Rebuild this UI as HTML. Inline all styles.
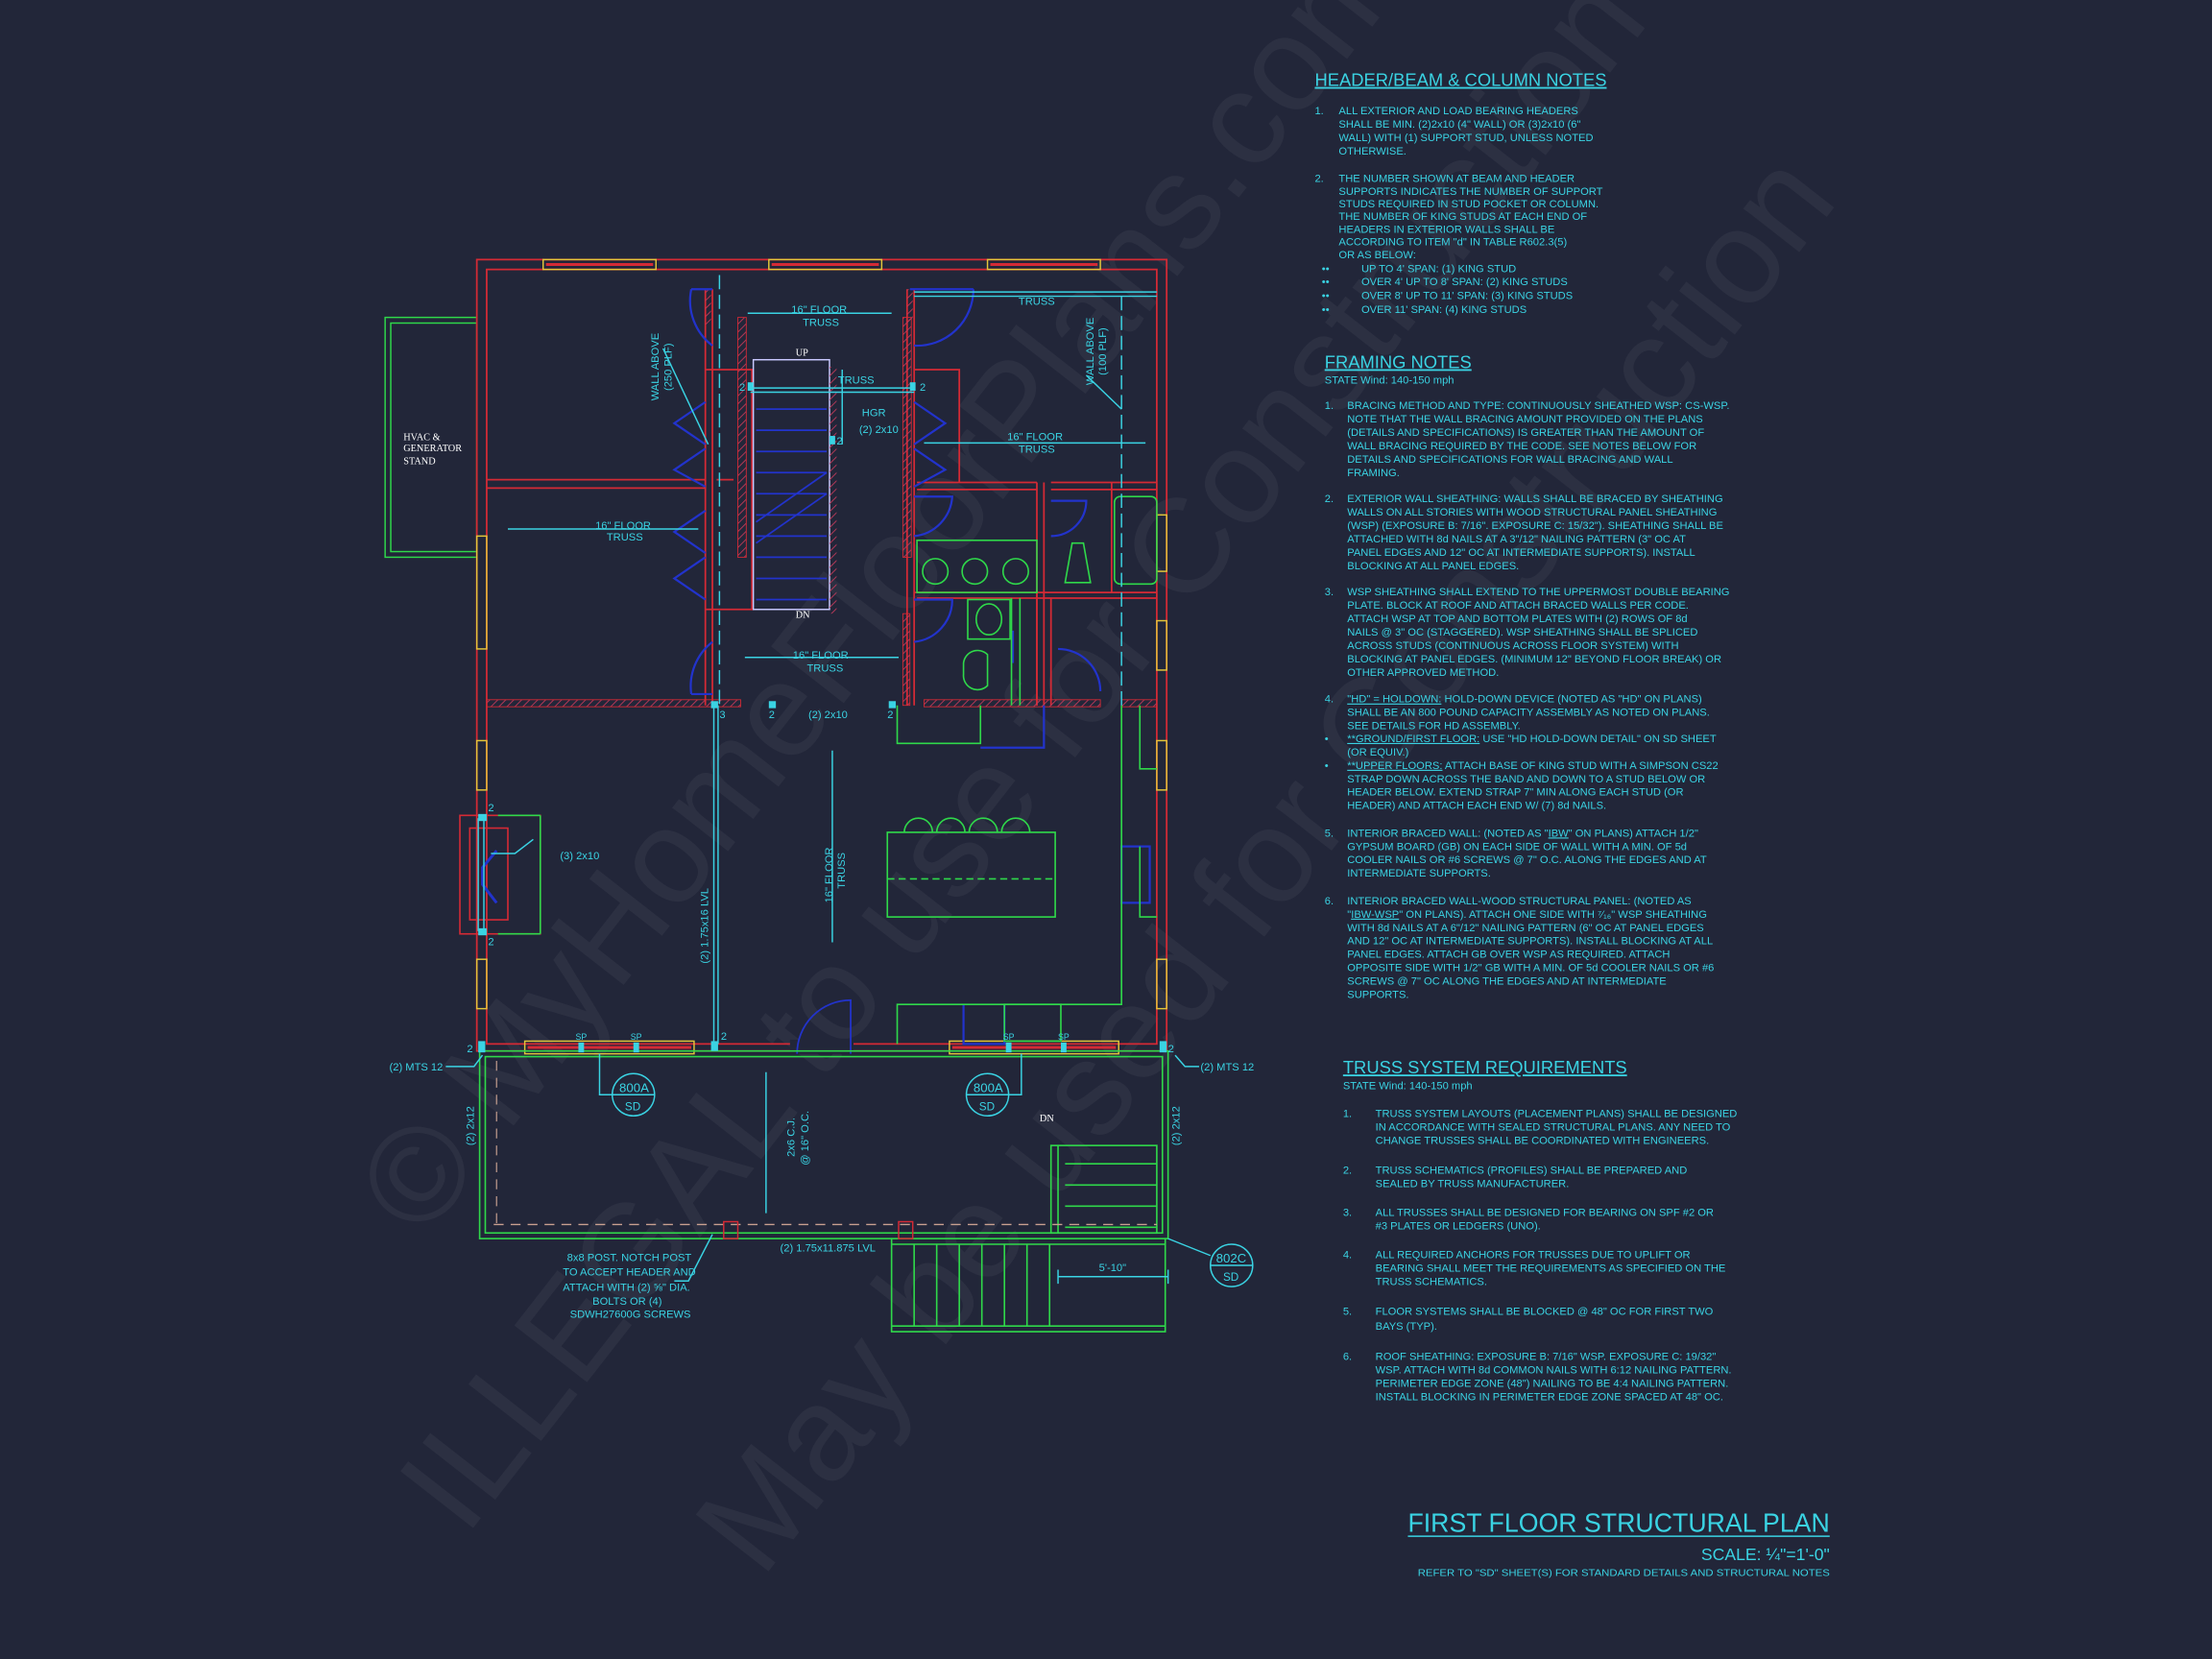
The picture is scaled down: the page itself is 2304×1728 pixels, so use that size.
<!DOCTYPE html>
<html><head><meta charset="utf-8"><style>
html,body{margin:0;padding:0;background:#222639;}
svg{display:block}
text{font-family:"Liberation Sans",sans-serif;}
.n{fill:#3ad3e3;font-size:7.6px;}
.h{fill:#3ad3e3;font-size:12.5px;text-decoration:underline;}
.l{fill:#3ad3e3;font-size:7.6px;}
.w{fill:#ffffff;font-family:"Liberation Serif",serif;font-size:7px;}
</style></head><body>
<svg width="2304" height="1728" viewBox="0 0 1568 1176" xmlns="http://www.w3.org/2000/svg">
<defs>
<pattern id="hat" width="4" height="4" patternUnits="userSpaceOnUse" patternTransform="rotate(45)"><line x1="0" y1="0" x2="0" y2="4" stroke="#c23a5a" stroke-width="1.2"/></pattern>
</defs>
<rect width="1568" height="1176" fill="#222639"/>

<!-- watermark -->
<g fill="#ffffff" opacity="0.045" font-family="Liberation Serif,serif">
<text x="300" y="880" font-size="95" transform="rotate(-52 300 880)">© MyHomeFloorPlans.com</text>
<text x="330" y="1090" font-size="95" transform="rotate(-52 330 1090)">ILLEGAL to use for Construction</text>
<text x="540" y="1120" font-size="95" transform="rotate(-52 540 1120)">May be used for Construction</text>
</g>

<!-- HVAC -->
<rect x="273" y="225" width="65" height="170" fill="none" stroke="#2fd84a" stroke-width="1"/>
<rect x="277" y="229" width="61" height="162" fill="none" stroke="#2fd84a" stroke-width="1"/>
<text class="w" x="286" y="312">HVAC &amp;</text>
<text class="w" x="286" y="320">GENERATOR</text>
<text class="w" x="286" y="329">STAND</text>

<!-- exterior walls -->
<g fill="none" stroke="#d42a35" stroke-width="1.2">
<rect x="338" y="184" width="489" height="561"/>
<rect x="345" y="191" width="475" height="549"/>
<path d="M345 340 H500 M345 346 H500 M508 340 H520 M650 342 H735 M650 347 H735 M745 342 H820 M745 347 H820"/>
<path d="M500 205 V500 M505 205 V500 M643 205 V500 M648 205 V500"/>
<path d="M500 262 H533 V432 H500 M648 262 H680 V342 M648 420 H680"/>
<path d="M735 342 V500 M740 342 V500 M650 420 H820 M650 424 H820 M788 342 V420"/>
<path d="M735 420 V500 M745 424 V500"/>
</g>
<rect x="345" y="496" width="180" height="5" fill="url(#hat)" stroke="#d42a35" stroke-width="0.6"/>
<rect x="655" y="496" width="125" height="5" fill="url(#hat)" stroke="#d42a35" stroke-width="0.6"/>
<rect x="795" y="496" width="25" height="5" fill="url(#hat)" stroke="#d42a35" stroke-width="0.6"/>
<rect x="523" y="225" width="6" height="170" fill="url(#hat)" stroke="#d42a35" stroke-width="0.6"/>
<rect x="640" y="225" width="6" height="170" fill="url(#hat)" stroke="#d42a35" stroke-width="0.6"/>
<rect x="500" y="205" width="4" height="25" fill="url(#hat)"/>
<rect x="643" y="205" width="4" height="25" fill="url(#hat)"/>
<rect x="640" y="435" width="5" height="65" fill="url(#hat)" stroke="#d42a35" stroke-width="0.6"/>

<g stroke-width="1" fill="none">
<rect x="385" y="184" width="80" height="7" stroke="#e3c63a"/><line x1="387" y1="187.5" x2="463" y2="187.5" stroke="#d42a35" stroke-width="2"/>
<rect x="545" y="184" width="80" height="7" stroke="#e3c63a"/><line x1="547" y1="187.5" x2="623" y2="187.5" stroke="#d42a35" stroke-width="2"/>
<rect x="700" y="184" width="80" height="7" stroke="#e3c63a"/><line x1="702" y1="187.5" x2="778" y2="187.5" stroke="#d42a35" stroke-width="2"/>
<rect x="338" y="380" width="7" height="80" stroke="#e3c63a"/>
<rect x="338" y="525" width="7" height="35" stroke="#e3c63a"/>
<rect x="338" y="680" width="7" height="35" stroke="#e3c63a"/>
<rect x="820" y="365" width="7" height="40" stroke="#e3c63a"/>
<rect x="820" y="440" width="7" height="35" stroke="#e3c63a"/>
<rect x="820" y="525" width="7" height="35" stroke="#e3c63a"/>
<rect x="820" y="680" width="7" height="35" stroke="#e3c63a"/>
<rect x="372" y="738" width="120" height="9" stroke="#e3c63a"/><line x1="374" y1="742.5" x2="490" y2="742.5" stroke="#d42a35" stroke-width="2"/>
<rect x="673" y="738" width="120" height="9" stroke="#e3c63a"/><line x1="675" y1="742.5" x2="791" y2="742.5" stroke="#d42a35" stroke-width="2"/>
</g>
<rect x="560" y="737" width="45" height="10" fill="#222639"/>
<path d="M565 747 A38 38 0 0 1 603 709 V747" fill="none" stroke="#2233cc" stroke-width="1.2"/>

<rect x="534" y="255" width="54" height="177" fill="none" stroke="#c9c9ff" stroke-width="1"/>
<g stroke="#2233cc" stroke-width="1.2">
<line x1="536" y1="290" x2="586" y2="290"/><line x1="536" y1="305" x2="586" y2="305"/><line x1="536" y1="320" x2="586" y2="320"/><line x1="536" y1="335" x2="586" y2="335"/><line x1="536" y1="350" x2="586" y2="350"/><line x1="536" y1="365" x2="586" y2="365"/><line x1="536" y1="380" x2="586" y2="380"/><line x1="536" y1="395" x2="586" y2="395"/><line x1="536" y1="410" x2="586" y2="410"/><line x1="536" y1="425" x2="586" y2="425"/>
<line x1="536" y1="370" x2="586" y2="335"/><line x1="536" y1="385" x2="586" y2="350"/>
</g>
<rect x="588" y="260" width="5" height="175" fill="url(#hat)"/>
<text class="w" x="564" y="252">UP</text><text class="w" x="564" y="438">DN</text>

<g fill="none" stroke="#2233cc" stroke-width="1.5">
<path d="M490 205 H505 M490 205 A40 40 0 0 0 505 245"/>
<path d="M645 205 H690 M690 205 A40 40 0 0 1 648 245"/>
<path d="M500 285 L478 300 L500 315 M500 318 L478 333 L500 345"/>
<path d="M500 362 L478 377 L500 392 M500 395 L478 410 L500 425"/>
<path d="M648 285 L670 300 L648 315 M648 318 L670 333 L648 345"/>
<path d="M490 492 H505 M490 492 A40 40 0 0 1 505 455"/>
<path d="M648 352 H675 A30 30 0 0 1 648 380"/>
<path d="M648 425 H675 A30 30 0 0 1 648 455"/>
<path d="M718 447 V470"/>
<path d="M745 355 H770 A25 25 0 0 1 745 380"/>
<path d="M750 460 A30 30 0 0 1 780 490"/>
<path d="M695 530 H740 V500"/>
<path d="M795 600 H815 V640 H795 Z"/>
<path d="M683 712 V740 H712 V712"/>
</g>

<g fill="none" stroke="#2fd84a" stroke-width="1.1">
<rect x="650" y="383" width="85" height="37"/>
<circle cx="663" cy="405" r="9"/><circle cx="691" cy="405" r="9"/><circle cx="720" cy="405" r="9"/>
<path d="M755 413 L760 385 H768 L773 413 Z"/>
<rect x="790" y="352" width="30" height="62" rx="4"/>
<rect x="686" y="425" width="30" height="28"/><ellipse cx="701" cy="439" rx="9" ry="11"/>
<path d="M683 470 A10 10 0 0 1 700 464 V486 A10 10 0 0 1 683 478 Z"/>
<line x1="717" y1="424" x2="717" y2="500"/><line x1="723" y1="424" x2="723" y2="500"/>
<rect x="629" y="590" width="119" height="60"/>
<line x1="629" y1="623" x2="748" y2="623" stroke-dasharray="5 3"/>
<path d="M641 590 A10 10 0 0 1 661 590 M664 590 A10 10 0 0 1 684 590 M687 590 A10 10 0 0 1 707 590 M710 590 A10 10 0 0 1 730 590"/>
<path d="M795 500 V712 H636 V740"/>
<path d="M808 500 V545 H820 M808 600 V650 H820 M636 500 V527 H695 V500"/>
<rect x="712" y="712" width="40" height="26"/>
<rect x="340" y="745" width="488" height="133"/>
<rect x="344" y="749" width="480" height="125"/>
<path d="M632 878 V944 H826 V878"/><path d="M632 940 H826 M632 882 H826"/>
<path d="M648 882 V940 M664 882 V940 M680 882 V940 M696 882 V940 M712 882 V940 M728 882 V940 M744 882 V940"/>
<rect x="745" y="812" width="75" height="62"/>
<path d="M750 812 V874 M755 825 H820 M755 840 H820 M755 855 H820 M755 870 H820"/>
</g>
<line x1="350" y1="868" x2="820" y2="868" stroke="#c8a090" stroke-dasharray="7 5" stroke-width="1"/>
<line x1="352" y1="752" x2="352" y2="868" stroke="#c8a090" stroke-dasharray="7 5" stroke-width="0.8"/>
<rect x="513" y="866" width="10" height="12" fill="none" stroke="#d42a35"/>
<rect x="637" y="866" width="10" height="12" fill="none" stroke="#d42a35"/>

<g fill="none" stroke-width="1.1">
<rect x="326" y="578" width="57" height="84" stroke="#d42a35"/>
<rect x="333" y="587" width="27" height="65" stroke="#d42a35"/>
<path d="M383 578 V662 M353 578 H383 M353 662 H383" stroke="#2fd84a"/>
<path d="M352 603 L342 615 V627 L352 640" stroke="#2233cc" stroke-width="2"/>
</g>
<g stroke="#3ad3e3" stroke-width="1" fill="none">
<line x1="339" y1="580" x2="339" y2="660"/><line x1="343" y1="580" x2="343" y2="660"/>
<line x1="510" y1="195" x2="510" y2="500" stroke-dasharray="10 4"/>
<line x1="795" y1="210" x2="795" y2="500" stroke-dasharray="10 4"/>
<path d="M648 207 H820 M648 210 H820"/>
<line x1="506" y1="500" x2="506" y2="740"/><line x1="509" y1="500" x2="509" y2="740"/>
<path d="M532 275 H648 M532 278 H648"/>
<line x1="597" y1="262" x2="597" y2="315"/>
<path d="M530 222 H632 M360 375 H495 M655 314 H812 M528 466 H637 M590 532 V668 M543 760 V860"/>
<path d="M750 905 H828 M750 900 V910 M828 900 V910"/>
<path d="M470 247 L502 315 M770 266 L795 290"/>
<path d="M316 756 H336 L342 748 M833 748 L840 756 H850"/>
<path d="M348 605 H365 L378 595 M505 875 L488 908 H478"/>
<path d="M434 776 H425 V747 M715 776 H724 V747 M828 878 L858 890"/>
</g>
<g fill="#3ad3e3">
<rect x="339" y="738" width="5" height="8"/><rect x="822" y="738" width="5" height="8"/><rect x="504" y="738" width="5" height="7"/>
<rect x="339" y="577" width="6" height="5"/><rect x="339" y="658" width="6" height="5"/>
<rect x="504" y="497" width="5" height="5"/><rect x="545" y="497" width="5" height="5"/><rect x="630" y="497" width="5" height="5"/>
<rect x="410" y="739" width="4" height="7"/><rect x="449" y="739" width="4" height="7"/><rect x="713" y="739" width="4" height="7"/><rect x="752" y="739" width="4" height="7"/>
<rect x="530" y="271" width="4" height="6"/><rect x="645" y="271" width="4" height="6"/><rect x="588" y="309" width="4" height="6"/>
</g>
<g fill="none" stroke="#3ad3e3"><circle cx="449" cy="776" r="15"/><circle cx="700" cy="776" r="15"/><circle cx="873" cy="897" r="15"/>
<path d="M434 776 H464 M685 776 H715 M858 897 H888"/></g>
<g class="l" font-size="8">
<text x="439" y="774" font-size="9">800A</text><text x="443" y="787" font-size="8">SD</text>
<text x="690" y="774" font-size="9">800A</text><text x="694" y="787" font-size="8">SD</text>
<text x="862" y="895" font-size="9">802C</text><text x="867" y="908" font-size="8">SD</text>
</g>

<g class="l">
<text x="561" y="222">16" FLOOR</text><text x="569" y="231">TRUSS</text>
<text x="722" y="216">TRUSS</text>
<text x="422" y="375">16" FLOOR</text><text x="430" y="383">TRUSS</text>
<text x="714" y="312">16" FLOOR</text><text x="722" y="321">TRUSS</text>
<text x="562" y="467">16" FLOOR</text><text x="572" y="476">TRUSS</text>
<text x="594" y="272">TRUSS</text><text x="611" y="295">HGR</text><text x="609" y="307">(2) 2x10</text>
<text x="524" y="277">2</text><text x="652" y="277">2</text><text x="593" y="315">2</text>
<text x="510" y="509">3</text><text x="545" y="509">2</text><text x="573" y="509">(2) 2x10</text><text x="629" y="509">2</text>
<text x="346" y="575">2</text><text x="397" y="609">(3) 2x10</text><text x="346" y="670">2</text>
<text x="511" y="737">2</text><text x="331" y="746">2</text><text x="828" y="746">2</text>
<text x="408" y="737" font-size="6">SP</text><text x="447" y="737" font-size="6">SP</text><text x="711" y="737" font-size="6">SP</text><text x="750" y="737" font-size="6">SP</text>
<text x="276" y="759">(2) MTS 12</text><text x="851" y="759">(2) MTS 12</text>
<text x="553" y="887">(2) 1.75x11.875 LVL</text>
<text x="779" y="901">5'-10"</text>
<text x="402" y="894">8x8 POST. NOTCH POST</text><text x="399" y="904">TO ACCEPT HEADER AND</text><text x="399" y="915">ATTACH WITH (2) ⅝" DIA.</text><text x="420" y="925">BOLTS OR (4)</text><text x="404" y="934">SDWH27600G SCREWS</text>
<text transform="translate(467 284) rotate(-90)">WALL ABOVE</text><text transform="translate(476 277) rotate(-90)">(250 PLF)</text>
<text transform="translate(775 273) rotate(-90)">WALL ABOVE</text><text transform="translate(784 266) rotate(-90)">(100 PLF)</text>
<text transform="translate(502 683) rotate(-90)">(2) 1.75x16 LVL</text>
<text transform="translate(590 640) rotate(-90)">16" FLOOR</text><text transform="translate(599 630) rotate(-90)">TRUSS</text>
<text transform="translate(563 820) rotate(-90)">2x6 C.J.</text><text transform="translate(573 826) rotate(-90)">@ 16" O.C.</text>
<text transform="translate(336 812) rotate(-90)">(2) 2x12</text><text transform="translate(836 812) rotate(-90)">(2) 2x12</text>
</g>
<text class="w" x="737" y="795">DN</text>

<text class="h" x="932" y="61">HEADER/BEAM &amp; COLUMN NOTES</text>
<g class="n">
<text x="932" y="81">1.</text>
<text x="949" y="81">ALL EXTERIOR AND LOAD BEARING HEADERS</text>
<text x="949" y="90.5">SHALL BE MIN. (2)2x10 (4" WALL) OR (3)2x10 (6"</text>
<text x="949" y="100">WALL) WITH (1) SUPPORT STUD, UNLESS NOTED</text>
<text x="949" y="109.5">OTHERWISE.</text>
<text x="932" y="129">2.</text>
<text x="949" y="129">THE NUMBER SHOWN AT BEAM AND HEADER</text>
<text x="949" y="138">SUPPORTS INDICATES THE NUMBER OF SUPPORT</text>
<text x="949" y="147">STUDS REQUIRED IN STUD POCKET OR COLUMN.</text>
<text x="949" y="156">THE NUMBER OF KING STUDS AT EACH END OF</text>
<text x="949" y="165">HEADERS IN EXTERIOR WALLS SHALL BE</text>
<text x="949" y="174">ACCORDING TO ITEM "d" IN TABLE R602.3(5)</text>
<text x="949" y="183">OR AS BELOW:</text>
<text x="937" y="193">••</text><text x="965" y="193">UP TO 4' SPAN: (1) KING STUD</text>
<text x="937" y="202">••</text><text x="965" y="202">OVER 4' UP TO 8' SPAN: (2) KING STUDS</text>
<text x="937" y="212">••</text><text x="965" y="212">OVER 8' UP TO 11' SPAN: (3) KING STUDS</text>
<text x="937" y="222">••</text><text x="965" y="222">OVER 11' SPAN: (4) KING STUDS</text>
</g>

<text class="h" x="939" y="261">FRAMING NOTES</text>
<text class="n" x="939" y="272" font-size="8.5">STATE Wind: 140-150 mph</text>
<g class="n">
<text x="939" y="290">1.</text>
<text x="955" y="290">BRACING METHOD AND TYPE: CONTINUOUSLY SHEATHED WSP: CS-WSP.</text>
<text x="955" y="299.5">NOTE THAT THE WALL BRACING AMOUNT PROVIDED ON THE PLANS</text>
<text x="955" y="309">(DETAILS AND SPECIFICATIONS) IS GREATER THAN THE AMOUNT OF</text>
<text x="955" y="318.5">WALL BRACING REQUIRED BY THE CODE. SEE NOTES BELOW FOR</text>
<text x="955" y="328">DETAILS AND SPECIFICATIONS FOR WALL BRACING AND WALL</text>
<text x="955" y="337.5">FRAMING.</text>
<text x="939" y="356">2.</text>
<text x="955" y="356">EXTERIOR WALL SHEATHING: WALLS SHALL BE BRACED BY SHEATHING</text>
<text x="955" y="365.5">WALLS ON ALL STORIES WITH WOOD STRUCTURAL PANEL SHEATHING</text>
<text x="955" y="375">(WSP) (EXPOSURE B: 7/16". EXPOSURE C: 15/32"). SHEATHING SHALL BE</text>
<text x="955" y="384.5">ATTACHED WITH 8d NAILS AT A 3"/12" NAILING PATTERN (3" OC AT</text>
<text x="955" y="394">PANEL EDGES AND 12" OC AT INTERMEDIATE SUPPORTS). INSTALL</text>
<text x="955" y="403.5">BLOCKING AT ALL PANEL EDGES.</text>
<text x="939" y="422">3.</text>
<text x="955" y="422">WSP SHEATHING SHALL EXTEND TO THE UPPERMOST DOUBLE BEARING</text>
<text x="955" y="431.5">PLATE. BLOCK AT ROOF AND ATTACH BRACED WALLS PER CODE.</text>
<text x="955" y="441">ATTACH WSP AT TOP AND BOTTOM PLATES WITH (2) ROWS OF 8d</text>
<text x="955" y="450.5">NAILS @ 3" OC (STAGGERED). WSP SHEATHING SHALL BE SPLICED</text>
<text x="955" y="460">ACROSS STUDS (CONTINUOUS ACROSS FLOOR SYSTEM) WITH</text>
<text x="955" y="469.5">BLOCKING AT PANEL EDGES. (MINIMUM 12" BEYOND FLOOR BREAK) OR</text>
<text x="955" y="479">OTHER APPROVED METHOD.</text>
<text x="939" y="498">4.</text>
<text x="955" y="498"><tspan text-decoration="underline">"HD" = HOLDOWN:</tspan> HOLD-DOWN DEVICE (NOTED AS "HD" ON PLANS)</text>
<text x="955" y="507.5">SHALL BE AN 800 POUND CAPACITY ASSEMBLY AS NOTED ON PLANS.</text>
<text x="955" y="517">SEE DETAILS FOR HD ASSEMBLY.</text>
<text x="939" y="526">•</text>
<text x="955" y="526"><tspan text-decoration="underline">**GROUND/FIRST FLOOR:</tspan>  USE "HD HOLD-DOWN DETAIL" ON SD SHEET</text>
<text x="955" y="535.5">(OR EQUIV.)</text>
<text x="939" y="545">•</text>
<text x="955" y="545"><tspan text-decoration="underline">**UPPER FLOORS:</tspan> ATTACH BASE OF KING STUD WITH A SIMPSON CS22</text>
<text x="955" y="554.5">STRAP DOWN ACROSS THE BAND AND DOWN TO A STUD BELOW OR</text>
<text x="955" y="564">HEADER BELOW.  EXTEND STRAP 7" MIN ALONG EACH STUD (OR</text>
<text x="955" y="573.5">HEADER) AND ATTACH EACH END W/ (7) 8d NAILS.</text>
<text x="939" y="593">5.</text>
<text x="955" y="593">INTERIOR BRACED WALL: (NOTED AS "<tspan text-decoration="underline">IBW</tspan>" ON PLANS) ATTACH 1/2"</text>
<text x="955" y="602.5">GYPSUM BOARD (GB) ON EACH SIDE OF WALL WITH A MIN. OF 5d</text>
<text x="955" y="612">COOLER NAILS OR #6 SCREWS @ 7" O.C. ALONG THE EDGES AND AT</text>
<text x="955" y="621.5">INTERMEDIATE SUPPORTS.</text>
<text x="939" y="641">6.</text>
<text x="955" y="641">INTERIOR BRACED WALL-WOOD STRUCTURAL PANEL: (NOTED AS</text>
<text x="955" y="650.5">"<tspan text-decoration="underline">IBW-WSP</tspan>" ON PLANS). ATTACH ONE SIDE WITH ⁷⁄₁₆" WSP SHEATHING</text>
<text x="955" y="660">WITH 8d NAILS AT A 6"/12" NAILING PATTERN (6" OC AT PANEL EDGES</text>
<text x="955" y="669.5">AND 12" OC AT INTERMEDIATE SUPPORTS). INSTALL BLOCKING AT ALL</text>
<text x="955" y="679">PANEL EDGES. ATTACH GB OVER WSP AS REQUIRED. ATTACH</text>
<text x="955" y="688.5">OPPOSITE SIDE WITH 1/2" GB WITH A MIN. OF 5d COOLER NAILS OR #6</text>
<text x="955" y="698">SCREWS @ 7" OC ALONG THE EDGES AND AT INTERMEDIATE</text>
<text x="955" y="707.5">SUPPORTS.</text>
</g>

<text class="h" x="952" y="761" font-size="11">TRUSS SYSTEM REQUIREMENTS</text>
<text class="n" x="952" y="772" font-size="8">STATE Wind: 140-150 mph</text>
<g class="n">
<text x="952" y="792">1.</text>
<text x="975" y="792">TRUSS SYSTEM LAYOUTS (PLACEMENT PLANS)  SHALL BE DESIGNED</text>
<text x="975" y="801.5">IN ACCORDANCE WITH SEALED STRUCTURAL PLANS. ANY NEED TO</text>
<text x="975" y="811">CHANGE TRUSSES SHALL BE COORDINATED  WITH  ENGINEERS.</text>
<text x="952" y="832">2.</text>
<text x="975" y="832">TRUSS SCHEMATICS (PROFILES) SHALL BE  PREPARED AND</text>
<text x="975" y="841.5">SEALED BY TRUSS  MANUFACTURER.</text>
<text x="952" y="862">3.</text>
<text x="975" y="862">ALL TRUSSES SHALL BE DESIGNED FOR  BEARING ON SPF #2 OR</text>
<text x="975" y="871.5">#3 PLATES OR LEDGERS  (UNO).</text>
<text x="952" y="892">4.</text>
<text x="975" y="892">ALL REQUIRED ANCHORS FOR TRUSSES DUE  TO UPLIFT OR</text>
<text x="975" y="901.5">BEARING SHALL MEET THE  REQUIREMENTS AS SPECIFIED ON THE</text>
<text x="975" y="911">TRUSS  SCHEMATICS.</text>
<text x="952" y="932">5.</text>
<text x="975" y="932">FLOOR SYSTEMS SHALL BE BLOCKED @ 48" OC FOR FIRST TWO</text>
<text x="975" y="942.5">BAYS (TYP).</text>
<text x="952" y="964">6.</text>
<text x="975" y="964">ROOF SHEATHING: EXPOSURE B: 7/16" WSP. EXPOSURE C: 19/32"</text>
<text x="975" y="973.5">WSP. ATTACH WITH 8d COMMON NAILS WITH 6:12 NAILING PATTERN.</text>
<text x="975" y="983">PERIMETER EDGE ZONE (48") NAILING TO BE 4:4 NAILING PATTERN.</text>
<text x="975" y="992.5">INSTALL BLOCKING IN PERIMETER EDGE ZONE SPACED AT 48" OC.</text>
</g>

<text x="1297" y="1086" text-anchor="end" fill="#3ad3e3" font-size="19" textLength="299" lengthAdjust="spacingAndGlyphs">FIRST FLOOR STRUCTURAL PLAN</text>
<line x1="998" y1="1089" x2="1297" y2="1089" stroke="#3ad3e3" stroke-width="1"/>
<text x="1297" y="1106" text-anchor="end" fill="#3ad3e3" font-size="12">SCALE: ¼"=1'-0"</text>
<text x="1297" y="1117" text-anchor="end" fill="#3ad3e3" font-size="7" textLength="292" lengthAdjust="spacingAndGlyphs">REFER TO "SD" SHEET(S) FOR STANDARD DETAILS AND STRUCTURAL NOTES</text>
</svg>
</body></html>
